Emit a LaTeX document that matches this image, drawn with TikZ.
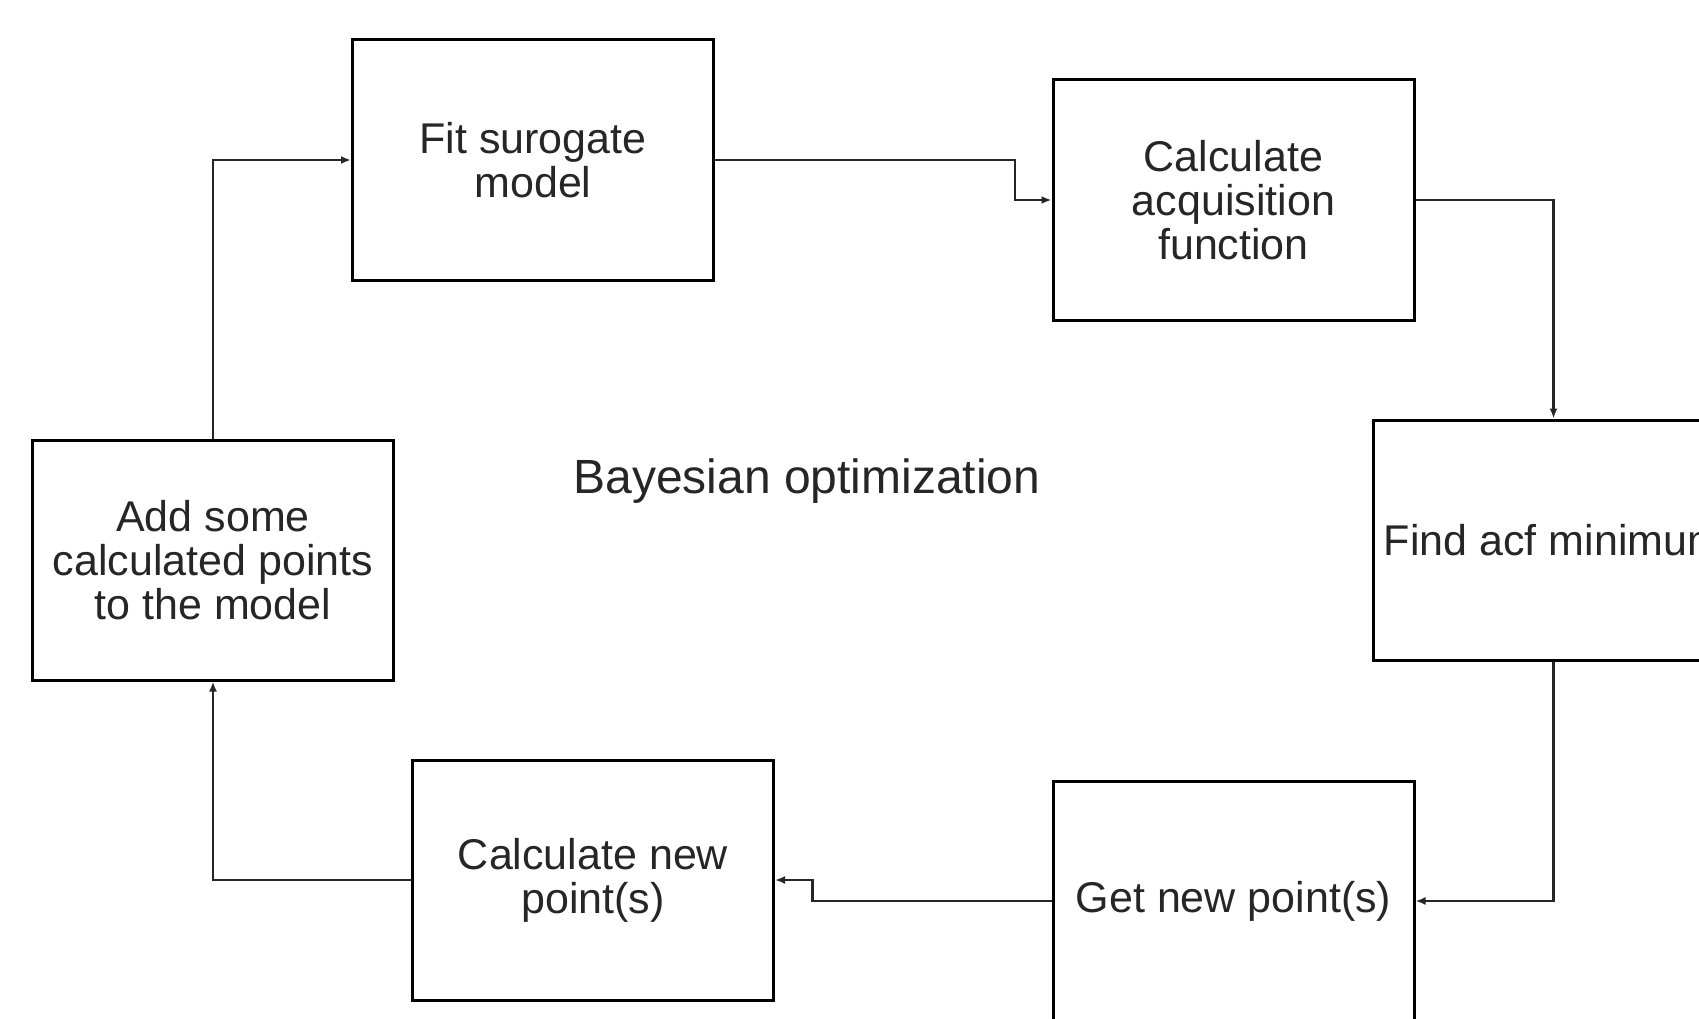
\documentclass[tikz,border=0pt]{standalone}
\usepackage{fontspec}
\setmainfont{Liberation Sans}
\usetikzlibrary{arrows.meta}

\tikzset{
  stepbox/.style={draw=black, line width=3pt, rectangle, inner sep=0pt,
    minimum width=361pt, minimum height=240pt, align=center,
    text=black!85, font=\fontsize{43}{44}\selectfont},
  flow/.style={draw=black!85, line width=2.2pt,
    -{Latex[length=10pt,width=8pt]}},
  heading/.style={text=black!85, inner sep=0pt, font=\fontsize{48}{52}\selectfont}
}

\begin{document}
\begin{tikzpicture}[x=1pt,y=-1pt]
  \useasboundingbox (0,0) rectangle (1699,1019);
  \clip (0,0) rectangle (1699,1019);
  \fill[white] (0,0) rectangle (1699,1019);

  % process steps
  \node[stepbox] (fit) at (533,160) {Fit surogate\\model};
  \node[stepbox] (acq) at (1233.5,200) {Calculate\\acquisition\\function};
  \node[stepbox] (acf) at (1553.5,540) {Find acf minimum};
  \node[stepbox] (get) at (1233.5,901) {Get new point(s)};
  \node[stepbox] (calc) at (593,880) {Calculate new\\point(s)};
  \node[stepbox] (add) at (213,560) {Add some\\calculated points\\to the model};

  % title in the middle of the loop
  \node[heading] (title) at (807,481) {Bayesian optimization};

  % connectors around the loop
  \draw[flow] (fit.east) -- ++(300,0) |- (acq.west);
  \draw[flow] (acq.east) -| (acf.north);
  \draw[flow] (acf.south) |- (get.east);
  \draw[flow] (get.west) -- ++(-239,0) |- (calc.east);
  \draw[flow] (calc.west) -| (add.south);
  \draw[flow] (add.north) |- (fit.west);
\end{tikzpicture}
\end{document}
